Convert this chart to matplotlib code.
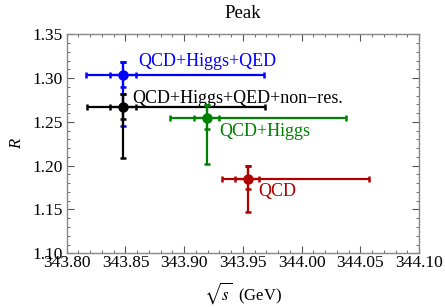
import numpy as np
import matplotlib
matplotlib.use("Agg")
from matplotlib import pyplot as plt
from matplotlib.ticker import MultipleLocator, FormatStrFormatter

plt.rcParams['font.family'] = ['Liberation Serif', 'DejaVu Serif']
plt.rcParams['mathtext.fontset'] = 'stix'

# sqrt(s) peak position and R at the peak, with inner/outer error bars
labels = ['QCD+Higgs+QED', 'QCD+Higgs+QED+non\u2212res.', 'QCD+Higgs', 'QCD']
colors = ['#0000ff', '#000000', '#008000', '#b00000']
x_c = [343.848, 343.848, 343.919, 343.954]
x_in_lo = [343.837, 343.837, 343.908, 343.943]
x_in_hi = [343.859, 343.859, 343.930, 343.964]
x_out_lo = [343.816, 343.817, 343.888, 343.932]
x_out_hi = [343.968, 343.969, 344.038, 344.057]
y_c = [1.3035, 1.2667, 1.2545, 1.1850]
y_hi = [1.3185, 1.2815, 1.2695, 1.1995]
y_in_lo = [1.2895, 1.2530, 1.2416, 1.1730]
y_out_lo = [1.2455, 1.2090, 1.2020, 1.1475]
label_xy = [(343.861, 1.3185), (343.856, 1.2770), (343.930, 1.2395), (343.963, 1.1700)]

fig = plt.figure(figsize=(4.45, 3.07), dpi=100)
ax = fig.add_axes([0.15, 0.175, 0.792, 0.713])

for i in range(len(labels)):
    c = colors[i]
    xc, yc = x_c[i], y_c[i]
    # outer bars
    ax.errorbar([xc], [yc],
                xerr=[[xc - x_out_lo[i]], [x_out_hi[i] - xc]],
                yerr=[[yc - y_out_lo[i]], [y_hi[i] - yc]],
                fmt='none', ecolor=c, elinewidth=1.6, capsize=2.2, capthick=1.8, zorder=3)
    # inner bars
    ax.errorbar([xc], [yc],
                xerr=[[xc - x_in_lo[i]], [x_in_hi[i] - xc]],
                yerr=[[yc - y_in_lo[i]], [y_hi[i] - yc]],
                fmt='o', color=c, ms=6.5, ecolor=c, elinewidth=1.6, capsize=2.2, capthick=1.8, zorder=4)
    ax.text(label_xy[i][0], label_xy[i][1], labels[i], color=c, fontsize=13, ha='left', va='center')

ax.set_xlim(343.80, 344.10)
ax.set_ylim(1.10, 1.35)
ax.xaxis.set_major_locator(MultipleLocator(0.05))
ax.xaxis.set_minor_locator(MultipleLocator(0.01))
ax.yaxis.set_major_locator(MultipleLocator(0.05))
ax.yaxis.set_minor_locator(MultipleLocator(0.01))
ax.xaxis.set_major_formatter(FormatStrFormatter('%.2f'))
ax.yaxis.set_major_formatter(FormatStrFormatter('%.2f'))
ax.tick_params(which='both', direction='in', top=True, right=True, color='#555555', labelsize=12.5)
ax.tick_params(which='major', length=5, width=0.8)
ax.tick_params(which='minor', length=2.5, width=0.6)
ax.tick_params(axis='x', pad=1)
ax.tick_params(axis='y', pad=3)
for s in ax.spines.values():
    s.set_color('#888888')
    s.set_linewidth(1.0)

ax.set_title('Peak', fontsize=13.5, pad=12)
ax.set_xlabel(r'$\sqrt{s}$  (GeV)', fontsize=12, labelpad=7)
ax.set_ylabel('R', fontsize=12, style='italic', labelpad=5)

fig.savefig('out.png', dpi=100)
